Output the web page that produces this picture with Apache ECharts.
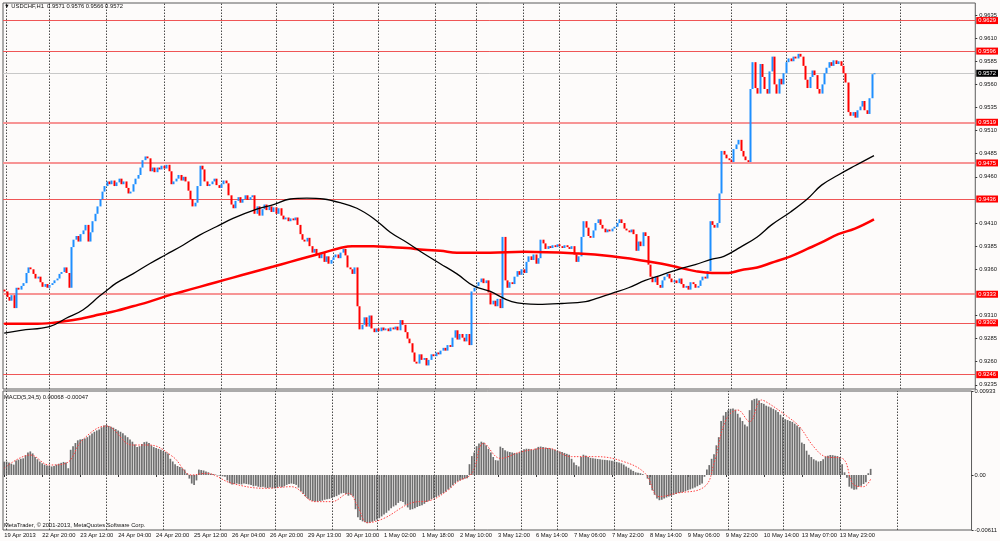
<!DOCTYPE html>
<html>
<head>
<meta charset="utf-8">
<script src="https://cdn.jsdelivr.net/npm/echarts@6/dist/echarts.min.js"></script>
<style>
html, body { margin: 0; padding: 0; background: #fdfbfa; }
#chart { width: 1000px; height: 541px; }
</style>
</head>
<body>
<div id="chart"></div>
<script>
// USDCHF H1, prices in pips (0.9572 -> 9572)
var firstOpen = 9338;
var closes = [
  9336, 9330, 9326, 9332, 9318, 9340, 9338, 9342, 9345, 9356,
  9362, 9360, 9355, 9350, 9352, 9346, 9341, 9344, 9340, 9343,
  9345, 9348, 9350, 9355, 9357, 9362, 9356, 9340, 9384, 9392,
  9396, 9390, 9398, 9402, 9408, 9390, 9400, 9412, 9420, 9428,
  9436, 9444, 9450, 9455, 9452, 9456, 9450, 9454, 9458, 9452,
  9455, 9448, 9442, 9444, 9452, 9458, 9462, 9470, 9478, 9482,
  9480, 9466, 9470, 9465, 9470, 9468, 9472, 9469, 9473, 9466,
  9452, 9455, 9458, 9462, 9456, 9460, 9455, 9445, 9436, 9428,
  9432, 9450, 9472, 9468, 9455, 9450, 9452, 9455, 9458, 9451,
  9448, 9452, 9456, 9453, 9440, 9430, 9426, 9434, 9438, 9432,
  9436, 9440, 9435, 9438, 9440, 9420, 9428, 9418, 9425, 9430,
  9424, 9428, 9422, 9427, 9420, 9426, 9418, 9414, 9416, 9412,
  9415, 9413, 9416, 9408, 9398, 9392, 9390, 9394, 9385, 9378,
  9382, 9376, 9372, 9378, 9368, 9374, 9366, 9370, 9373, 9376,
  9372, 9378, 9382, 9375, 9362, 9360, 9355, 9362, 9320, 9295,
  9300, 9308, 9298, 9310, 9296, 9292, 9296, 9293, 9297, 9294,
  9296, 9293, 9297, 9295, 9298, 9294, 9305, 9300, 9292, 9285,
  9280, 9270, 9260, 9258, 9268, 9262, 9264, 9256, 9262, 9268,
  9266, 9270, 9268, 9272, 9275, 9272, 9278, 9276, 9286, 9294,
  9284, 9290, 9286, 9282, 9290, 9278, 9336, 9340, 9342, 9346,
  9350, 9345, 9348, 9335, 9322, 9326, 9320, 9328, 9318, 9395,
  9348, 9340, 9346, 9344, 9352, 9358, 9354, 9360, 9356, 9368,
  9374, 9370, 9376, 9366, 9372, 9392, 9388, 9382, 9385, 9383,
  9386, 9384, 9387, 9385, 9383, 9386, 9384, 9382, 9385, 9376,
  9368, 9374, 9395, 9412, 9405, 9396, 9394, 9402, 9410, 9414,
  9408, 9404, 9400, 9403, 9401, 9404, 9406, 9410, 9414, 9410,
  9404, 9402, 9400, 9403, 9398, 9380, 9390, 9385, 9400, 9396,
  9365, 9352, 9346, 9352, 9343, 9340, 9348, 9352, 9355, 9350,
  9346, 9348, 9345, 9350, 9344, 9340, 9342, 9338, 9346, 9344,
  9340, 9342, 9348, 9352, 9350, 9358, 9412, 9408, 9405, 9410,
  9442, 9488, 9484, 9480, 9478, 9476, 9490, 9495, 9500, 9488,
  9482, 9478, 9476, 9555, 9584, 9556, 9550, 9582, 9568, 9555,
  9550, 9574, 9590, 9560, 9550, 9566, 9560, 9572, 9584, 9588,
  9585, 9590, 9588, 9593, 9590, 9580, 9565, 9556, 9568, 9575,
  9570, 9555, 9550, 9560, 9572, 9578, 9584, 9580, 9586, 9582,
  9585, 9580, 9572, 9562, 9530, 9526, 9530, 9524, 9532, 9536,
  9542, 9532, 9528, 9545, 9571, 9572
];
var upWick = [
  3,2,4,3,2,3,2,3,3,4, 3,8,2,3,2,3,2,3,2,2, 3,2,3,2,3,4,2,2,4,3, 5,2,3,6,3,2,3,2,3,4,
  3,4,5,3,4,3,2,3,5,2, 3,2,3,2,3,3,4,3,4,16, 3,2,4,2,3,2,4,2,5,2, 2,3,3,4,2,3,2,2,3,2,
  4,3,11,2,3,2,3,3,4,2, 3,3,4,2,2,3,2,4,5,2, 3,4,2,3,5,2,4,2,3,3, 2,4,2,3,4,3,2,3,3,2,
  3,2,4,2,2,3,2,3,2,3, 4,2,3,3,2,4,2,3,3,4, 2,3,4,2,2,3,2,4,2,3, 4,3,2,4,2,3,3,2,3,2,
  3,2,3,2,3,2,4,2,2,3, 2,3,2,3,4,2,3,2,3,3, 2,3,2,3,3,2,4,2,3,4, 2,3,2,3,4,2,5,4,3,4,
  5,2,3,2,2,3,2,4,2,5, 2,3,3,2,3,4,2,3,2,4, 3,2,4,2,3,5,2,2,3,2, 3,2,3,2,2,3,2,2,3,2,
  2,3,4,24,2,2,3,4,3,6, 2,2,3,2,3,3,2,3,4,2, 2,3,2,3,2,2,3,2,6,2, 2,2,3,3,2,3,3,2,3,2,
  2,3,2,3,2,2,3,2,3,2, 2,3,3,3,2,4,6,2,3,3, 3,9,3,2,3,2,4,3,4,2, 2,3,2,3,6,2,3,4,2,3,
  2,4,38,2,3,4,2,3,4,3, 3,4,3,3,6,2,2,2,3,4, 2,2,3,3,4,3,4,2,4,3, 3,2,2,2,2,3,3,2,3,3,
  4,2,3,3,10,4
];
var dnWick = [
  3,4,3,2,4,2,3,2,3,2, 3,2,3,2,3,2,3,2,3,2, 2,3,2,3,2,2,3,5,13,3, 2,3,2,3,2,4,3,2,3,2,
  3,2,3,2,3,2,3,2,2,3, 2,3,2,3,2,3,2,3,2,3, 2,3,2,3,2,3,2,3,2,3, 3,2,3,2,3,2,3,2,3,6,
  3,2,3,2,3,2,3,2,3,2, 3,2,3,2,3,2,3,2,3,2, 3,2,3,2,3,16,3,12,3,2, 3,2,3,2,3,2,3,3,2,3,
  2,3,2,3,3,2,3,2,3,24, 3,2,3,2,3,2,3,2,3,2, 3,2,3,2,3,2,4,2,3,17, 3,12,3,2,3,3,2,3,2,3,
  2,3,2,3,2,3,2,3,3,2, 3,3,4,11,3,2,3,11,3,2, 3,2,3,2,3,2,3,2,3,2, 3,2,3,3,2,12,12,3,2,3,
  2,3,2,3,6,3,2,3,6,16, 3,30,3,2,3,2,3,2,3,2, 3,2,3,3,2,3,2,3,2,3, 2,3,2,2,3,2,3,2,3,3,
  3,2,3,2,3,3,2,3,2,3, 3,2,3,2,3,2,3,2,3,2, 3,2,3,2,3,4,3,2,3,2, 3,3,4,2,3,6,2,3,2,3,
  3,2,3,2,3,3,2,3,2,3, 9,2,3,2,3,2,3,3,2,3, 2,3,2,3,2,3,2,3,2,3, 3,2,4,2,3,3,4,2,3,3,
  4,2,3,3,4,2,3,2,3,2, 3,2,3,2,3,3,3,4,2,3, 3,3,4,2,3,2,3,2,3,2, 3,2,3,3,10,4,3,4,3,3,
  3,3,4,10,3,5
];

// moving averages, read as [bar, pips]
var blackMa = [
  [0,9291],[7,9294],[19,9298],[26,9307],[33,9316],[40,9331],[43,9337],[47,9345],[54,9355],
  [61,9366],[68,9376],[75,9386],[82,9397],[89,9406],[96,9415],[106,9425],[113,9430],
  [120,9436],[127,9437],[134,9436],[141,9432],[148,9426],[155,9415],[162,9400],
  [169,9389],[176,9377],[183,9366],[190,9355],[197,9342],[204,9336],[213,9325],
  [224,9322],[234,9323],[244,9325],[248,9328],[255,9334],[262,9340],[269,9348],
  [276,9354],[283,9360],[290,9365],[297,9371],[302,9374],[309,9384],[316,9395],
  [322,9408],[330,9422],[337,9436],[343,9451],[350,9462],[357,9472],[365,9483]
];
var redMa = [
  [0,9301],[14,9301],[26,9304],[33,9307],[40,9311],[47,9315],[54,9320],[61,9325],
  [68,9331],[75,9336],[82,9341],[89,9346],[96,9351],[103,9356],[113,9363],[120,9368],
  [127,9373],[134,9378],[141,9383],[146,9385],[155,9385],[162,9384],[169,9383],
  [176,9381],[183,9380],[190,9378],[204,9378],[218,9379],[241,9377],[255,9374],
  [269,9369],[276,9366],[283,9362],[290,9358],[297,9356],[304,9356],[309,9359],
  [316,9362],[322,9367],[330,9374],[337,9382],[343,9389],[350,9398],[357,9404],[365,9414]
];

// MACD(5,34,5) main line, in 1e-5
var macd = [
  148,150,140,125,115,160,170,180,185,220,
  250,262,240,200,175,150,130,115,105,100,
  95,100,115,125,135,145,140,75,280,320,
  355,385,395,400,405,420,440,460,480,495,
  505,530,550,555,545,535,525,510,495,480,
  465,440,420,395,370,340,310,320,345,365,
  370,355,330,310,300,290,280,265,255,240,
  180,150,120,100,90,75,60,20,-40,-95,
  -110,-60,60,55,50,40,30,15,10,5,
  -5,-10,-15,-20,-60,-90,-105,-100,-95,-100,
  -105,-95,-100,-105,-110,-125,-120,-130,-135,-130,
  -140,-145,-140,-148,-145,-140,-130,-135,-125,-110,
  -100,-95,-100,-110,-140,-180,-210,-240,-265,-280,
  -290,-295,-296,-290,-285,-275,-270,-265,-255,-245,
  -235,-220,-205,-200,-210,-230,-220,-240,-380,-470,
  -500,-515,-525,-535,-530,-520,-510,-495,-480,-460,
  -440,-420,-395,-370,-350,-335,-310,-290,-300,-330,
  -360,-385,-380,-370,-355,-345,-335,-320,-300,-285,
  -270,-255,-245,-230,-215,-200,-185,-160,-140,-110,
  -90,-70,-60,-50,-40,-35,120,210,250,320,
  350,370,360,330,290,250,200,165,160,315,
  300,275,262,255,250,245,242,250,270,285,
  292,290,285,280,295,312,316,310,305,300,
  296,290,280,270,262,255,245,235,225,180,
  140,110,95,200,225,215,200,190,185,182,
  178,175,170,168,165,162,158,152,145,140,
  130,115,95,80,60,45,30,25,20,10,
  0,-40,-110,-170,-220,-260,-280,-275,-260,-250,
  -240,-230,-220,-210,-200,-195,-190,-180,-170,-160,
  -150,-140,-125,-110,-95,-20,60,110,180,230,
  330,420,600,660,700,720,735,740,725,680,
  640,600,560,540,720,830,845,850,830,800,
  790,770,760,750,735,720,700,670,640,620,
  610,600,590,570,550,530,360,345,270,225,
  200,175,160,150,155,175,205,215,222,220,
  215,210,200,120,30,-30,-130,-150,-165,-160,
  -130,-120,-100,-80,20,68
];
var signal = [
  [0,74],[11,222],[19,111],[26,130],[33,389],[43,544],[54,333],[61,333],[71,204],
  [79,0],[85,18],[96,-93],[110,-148],[121,-130],[131,-296],[138,-296],[145,-204],
  [149,-352],[153,-530],[160,-481],[171,-315],[180,-278],[187,-167],[191,-74],
  [197,18],[202,352],[209,185],[218,259],[229,296],[239,204],[249,204],[261,148],
  [270,18],[276,-241],[283,-204],[295,-130],[299,130],[304,611],[309,722],[314,593],
  [319,833],[322,796],[330,648],[335,537],[341,315],[346,204],[353,185],[358,-111],
  [362,-130],[365,-47]
];

var levels = [9629, 9596, 9519, 9475, 9436, 9333, 9302, 9246];
var heavyLevels = [9519, 9475, 9333];
var lastPrice = 9572;
var priceTicks = [9235, 9260, 9285, 9310, 9360, 9385, 9410, 9460, 9485, 9510, 9535, 9560, 9585, 9610, 9635];
var macdTicks = [933, 0, -611];
var dayLines = [1, 19, 43, 67, 91, 114, 138, 157, 181, 198, 218, 233, 257, 281, 305, 328, 352, 376];
var timeLabels = ['19 Apr 2013', '22 Apr 20:00', '23 Apr 12:00', '24 Apr 04:00', '24 Apr 20:00',
  '25 Apr 12:00', '26 Apr 04:00', '26 Apr 20:00', '29 Apr 13:00', '30 Apr 10:00', '1 May 02:00',
  '1 May 18:00', '2 May 10:00', '3 May 12:00', '6 May 14:00', '7 May 06:00', '7 May 22:00',
  '8 May 14:00', '9 May 06:00', '9 May 22:00', '10 May 14:00', '13 May 07:00', '13 May 23:00'];
var slots = 408;
var labelStep = 16;

var FONT = 'Liberation Sans';
var FS = 5.8;

var cats = [];
for (var i = 0; i < slots; i++) cats.push(String(i));

// [index, open, close, low, high]
var bars = [];
for (var i = 0; i < closes.length; i++) {
  var o = i === 0 ? firstOpen : closes[i - 1];
  var c = closes[i];
  var top = Math.max(o, c), bot = Math.min(o, c);
  bars.push([i, o / 1e4, c / 1e4, (bot - dnWick[i]) / 1e4, (top + upWick[i]) / 1e4]);
}
var toPrice = function (pts) {
  return pts.map(function (p) { return [p[0], p[1] / 1e4]; });
};

function renderCandle(params, api) {
  var x = api.value(0);
  var o = api.value(1), c = api.value(2), lo = api.value(3), hi = api.value(4);
  var pO = api.coord([x, o]), pC = api.coord([x, c]);
  var pL = api.coord([x, lo]), pH = api.coord([x, hi]);
  var bull = c >= o;
  var cx = Math.round(pO[0]) + 0.5;
  var bodyTop = Math.min(pO[1], pC[1]);
  var bodyH = Math.max(Math.abs(pO[1] - pC[1]), 1);
  return {
    type: 'group',
    children: [
      { type: 'line', shape: { x1: cx, y1: pH[1], x2: cx, y2: pL[1] },
        style: { stroke: bull ? '#8cc2f6' : '#f79c9c', lineWidth: 1 } },
      { type: 'rect', shape: { x: cx - 1, y: bodyTop, width: 2, height: bodyH },
        style: { fill: bull ? '#1e8fff' : '#ff0000' } }
    ]
  };
}

var vLines = function () {
  return dayLines.map(function (d) {
    return { xAxis: d, lineStyle: { color: '#4a4a4a', width: 1, type: [1.5, 1.5] }, label: { show: false } };
  });
};

var tagLabel = function (text, bg) {
  return {
    show: true, position: 'end', distance: 1, formatter: text,
    backgroundColor: bg, color: '#fff', fontFamily: FONT, fontSize: FS, padding: [1, 2, 0, 2]
  };
};
var levelLines = levels.map(function (v) {
  var heavy = heavyLevels.indexOf(v) >= 0;
  return {
    yAxis: v / 1e4,
    lineStyle: { color: heavy ? '#f79494' : '#ef5555', width: heavy ? 2 : 1, type: 'solid' },
    label: tagLabel((v / 1e4).toFixed(4), '#ff0000')
  };
});
levelLines.push({
  yAxis: lastPrice / 1e4,
  lineStyle: { color: '#c8c8c8', width: 1, type: 'solid' },
  label: tagLabel((lastPrice / 1e4).toFixed(4), '#000')
});

var chart = echarts.init(document.getElementById('chart'));

var option = {
  animation: false,
  backgroundColor: '#fdfbfa',
  textStyle: { fontFamily: FONT },
  grid: [
    { left: 3, right: 24, top: 3, height: 386, show: true, borderColor: '#5a5a5a', borderWidth: 1, backgroundColor: 'transparent' },
    { left: 3, right: 24, top: 391, height: 139, show: true, borderColor: '#5a5a5a', borderWidth: 1, backgroundColor: 'transparent' }
  ],
  xAxis: [
    {
      type: 'category', gridIndex: 0, data: cats, boundaryGap: true,
      axisLine: { show: false }, axisTick: { show: false }, axisLabel: { show: false }, splitLine: { show: false }
    },
    {
      type: 'category', gridIndex: 1, data: cats, boundaryGap: true,
      axisLine: { show: false },
      axisTick: {
        show: true, length: 2, alignWithLabel: true, lineStyle: { color: '#333' },
        interval: function (idx) { return idx % labelStep === 0 && idx / labelStep < timeLabels.length; }
      },
      axisLabel: {
        show: true, interval: labelStep - 1, align: 'left', margin: 2,
        color: '#111', fontFamily: FONT, fontSize: FS,
        formatter: function (val) {
          var n = Number(val), k = Math.round(n / labelStep);
          return (n % labelStep === 0 && k < timeLabels.length) ? timeLabels[k] : '';
        }
      },
      splitLine: { show: false }
    }
  ],
  yAxis: [
    {
      type: 'value', gridIndex: 0, position: 'right', min: 0.92305, max: 0.96480,
      axisLine: { show: false }, splitLine: { show: false },
      axisTick: { show: true, length: 2, lineStyle: { color: '#333' }, customValues: priceTicks.map(function (v) { return v / 1e4; }) },
      axisLabel: {
        show: true, margin: 4, color: '#111', fontFamily: FONT, fontSize: FS,
        customValues: priceTicks.map(function (v) { return v / 1e4; }),
        formatter: function (v) { return v.toFixed(4); }
      }
    },
    {
      type: 'value', gridIndex: 1, position: 'right', min: -0.00611, max: 0.00933,
      axisLine: { show: false }, splitLine: { show: false },
      axisTick: { show: true, length: 2, lineStyle: { color: '#333' }, customValues: macdTicks.map(function (v) { return v / 1e5; }) },
      axisLabel: {
        show: true, margin: 3, color: '#111', fontFamily: FONT, fontSize: FS,
        customValues: macdTicks.map(function (v) { return v / 1e5; }),
        formatter: function (v) { return Math.abs(v) < 1e-9 ? '0.00' : v.toFixed(5); }
      }
    }
  ],
  series: [
    {
      name: 'price', type: 'custom', xAxisIndex: 0, yAxisIndex: 0, z: 3,
      data: bars, renderItem: renderCandle,
      encode: { x: 0, y: [1, 2, 3, 4] },
      markLine: { silent: true, symbol: 'none', precision: 6, animation: false, z: 1, data: vLines().concat(levelLines) }
    },
    {
      name: 'redMa', type: 'line', xAxisIndex: 0, yAxisIndex: 0, z: 4,
      data: toPrice(redMa), smooth: 0.4, symbol: 'none',
      lineStyle: { color: '#ff0000', width: 2.5 }
    },
    {
      name: 'blackMa', type: 'line', xAxisIndex: 0, yAxisIndex: 0, z: 5,
      data: toPrice(blackMa), smooth: 0.4, symbol: 'none',
      lineStyle: { color: '#000', width: 1.3 }
    },
    {
      name: 'macd', type: 'bar', xAxisIndex: 1, yAxisIndex: 1, z: 2,
      data: macd.map(function (v) { return v / 1e5; }), barWidth: 1.7,
      itemStyle: { color: '#6f6f6f' },
      markLine: { silent: true, symbol: 'none', precision: 6, animation: false, data: vLines() }
    },
    {
      name: 'signal', type: 'line', xAxisIndex: 1, yAxisIndex: 1, z: 4,
      data: signal.map(function (p) { return [p[0], p[1] / 1e5]; }), smooth: 0.4, symbol: 'none',
      lineStyle: { color: '#ff4040', width: 1, type: [1.5, 1.5] }
    }
  ],
  graphic: [
    { type: 'text', left: 4, top: 3, z: 10, style: { text: '\u25BC USDCHF,H1  0.9571 0.9576 0.9566 0.9572', fontFamily: FONT, fontSize: FS, fill: '#111' } },
    { type: 'text', left: 4, top: 394, z: 10, style: { text: 'MACD(5,34,5) 0.00068 -0.00047', fontFamily: FONT, fontSize: FS, fill: '#111' } },
    { type: 'text', left: 4, top: 522, z: 10, style: { text: 'MetaTrader, \u00A9 2001-2013, MetaQuotes Software Corp.', fontFamily: FONT, fontSize: FS, fill: '#111' } }
  ]
};

chart.setOption(option);
</script>
</body>
</html>
